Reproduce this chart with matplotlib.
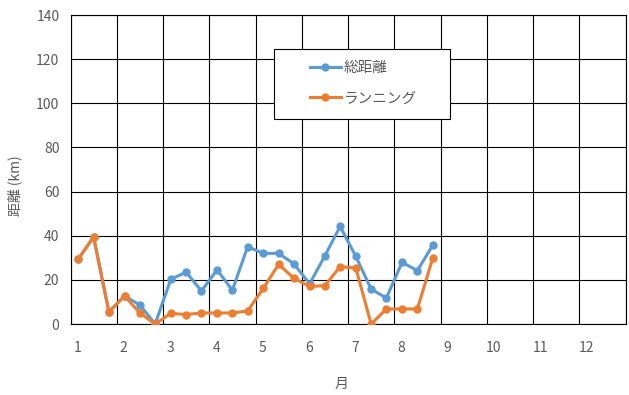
import matplotlib.pyplot as plt
from matplotlib.patches import Rectangle
from matplotlib.transforms import ScaledTranslation

plt.rcParams['font.family'] = ['Noto Sans CJK JP', 'DejaVu Sans']

# data: three points per month (x = month position)
x = [1.17, 1.5, 1.83, 2.17, 2.5, 2.83, 3.17, 3.5, 3.83, 4.17, 4.5, 4.83,
     5.17, 5.5, 5.83, 6.17, 6.5, 6.83, 7.17, 7.5, 7.83, 8.17, 8.5, 8.83]
total = [29.5, 39.4, 5.5, 12.7, 8.6, 0, 20.3, 23.5, 15, 24.5, 15.3, 35,
         32, 32, 27.3, 18.2, 30.9, 44.2, 30.6, 15.8, 11.8, 27.9, 24.2, 35.6]
running = [29.5, 39.4, 5.5, 12.7, 5, 0, 4.8, 4.3, 5, 5, 5, 5.9,
           16.2, 27, 20.8, 17, 17.4, 26, 25.3, 0, 6.8, 6.8, 6.8, 29.7]
months = list(range(1, 13))
yticks = [0, 20, 40, 60, 80, 100, 120, 140]

fig = plt.figure(figsize=(6.29, 3.95), dpi=100)
ax = fig.add_axes([70.5 / 629, 1 - 324 / 395, 555 / 629, 309 / 395])

ax.plot(x, total, color='#5B9BD5', lw=2.2, marker='o', ms=5, label='総距離', zorder=3)
ax.plot(x, running, color='#ED7D31', lw=2.2, marker='o', ms=5, label='ランニング', zorder=4)

ax.set_xlim(1, 13)
ax.set_ylim(0, 140)
ax.set_xticks(months + [13])
ax.set_xticklabels([str(m) for m in months] + [''])
ax.set_yticks(yticks)
ax.grid(True, color='black', lw=0.8)
ax.tick_params(length=0, labelsize=10, labelcolor='#595959')
ax.tick_params(axis='x', pad=12)
ax.tick_params(axis='y', pad=8)
for s in ax.spines.values():
    s.set_color('black')
    s.set_linewidth(0.8)

# x labels sit a little right of the gridline
off = ScaledTranslation(7 / 100, 0, fig.dpi_scale_trans)
for lab in ax.get_xticklabels():
    lab.set_transform(lab.get_transform() + off)

ax.set_xlabel('月', fontsize=10, color='#595959')
ax.set_ylabel('距離 (km)', fontsize=10, color='#595959')
ax.xaxis.set_label_coords(0.489, -0.172)
ax.yaxis.set_label_coords(-0.087, 0.447)

# legend box
box = Rectangle((274 / 629, 1 - 119 / 395), 176 / 629, 70 / 395,
                transform=fig.transFigure, facecolor='white', edgecolor='black',
                lw=0.8, zorder=5)
fig.patches.append(box)

leg = fig.legend(loc='center left', bbox_to_anchor=(310 / 629, 1 - 83.5 / 395),
                 frameon=False, fontsize=10.5, labelcolor='#595959',
                 handlelength=2.1, borderpad=0, labelspacing=1.1,
                 borderaxespad=0, handletextpad=0.2)
leg.set_zorder(10)

fig.savefig('out.png', dpi=100)
